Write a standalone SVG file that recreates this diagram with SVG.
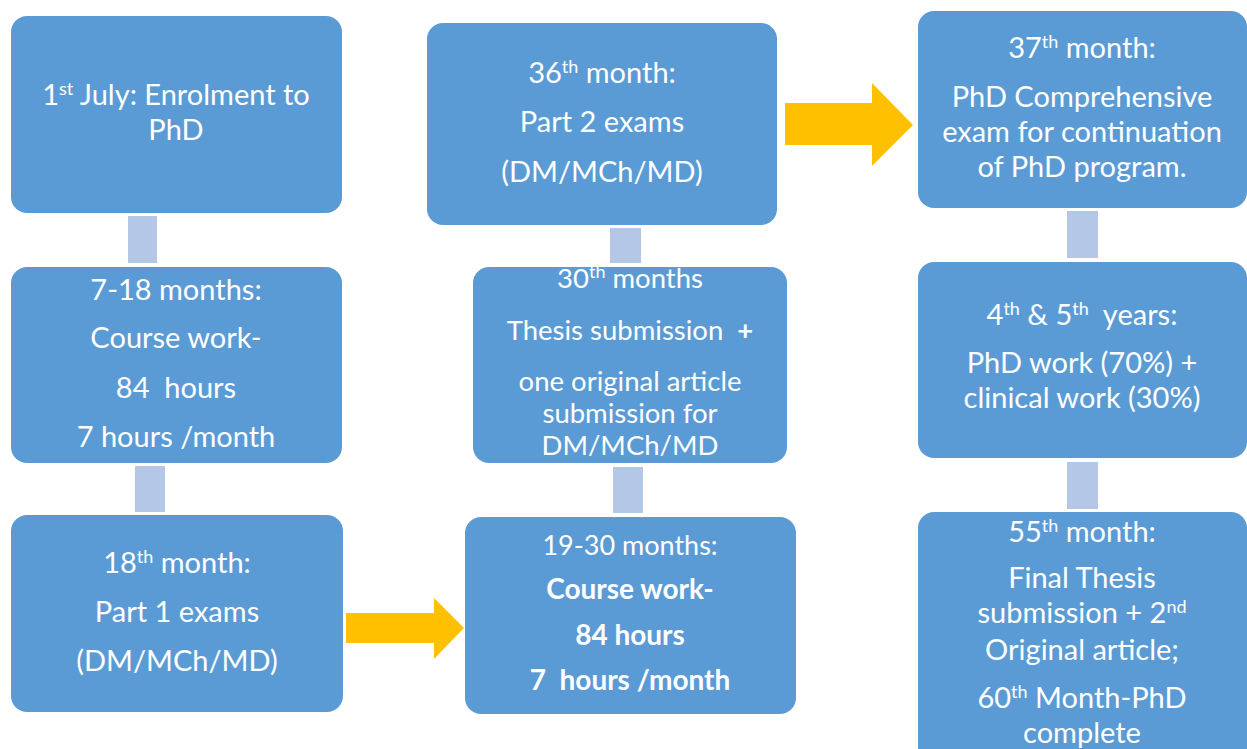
<svg xmlns="http://www.w3.org/2000/svg" width="1247" height="749" viewBox="0 0 1247 749">
<style>
.box{fill:#5B9BD5;}
.con{fill:#B4C7E7;}
.arr{fill:#FFC000;}
text{font-family:Lato,"Open Sans","Liberation Sans",sans-serif;font-size:29px;fill:#FFFFFF;text-anchor:middle;}
.s5{font-size:27.5px;}
.s6{font-size:27px;}
.b{font-weight:bold;font-size:28px;}
.sup{font-size:18px;}
</style>
<rect width="1247" height="749" fill="#FFFFFF"/>
<g id="connectors">
<rect class="con" x="128" y="216" width="29" height="47"/>
<rect class="con" x="135" y="466" width="30" height="46"/>
<rect class="con" x="610" y="228" width="31" height="35"/>
<rect class="con" x="613" y="467" width="30" height="46"/>
<rect class="con" x="1067" y="211" width="31" height="47"/>
<rect class="con" x="1067" y="462" width="31" height="47"/>
<polygon class="arr" points="346,613 434,613 434,598 464,628 434,659 434,643 346,643"/>
<polygon class="arr" points="785,103 872,103 872,83 913,125 872,166 872,145 785,145"/>
</g>
<g id="n1">
<rect class="box" x="11" y="16" width="331" height="197" rx="16"/>
<text x="176" y="105">1<tspan class="sup" dy="-10">st</tspan><tspan dy="10"> July: Enrolment to</tspan></text>
<text x="176" y="140">PhD</text>
</g>
<g id="n2">
<rect class="box" x="11" y="267" width="331" height="196" rx="16"/>
<text x="176" y="300">7-18 months:</text>
<text x="176" y="348">Course work-</text>
<text x="176" y="398" xml:space="preserve">84  hours</text>
<text x="176" y="447">7 hours /month</text>
</g>
<g id="n3">
<rect class="box" x="11" y="515" width="332" height="197" rx="16"/>
<text x="177" y="573">18<tspan class="sup" dy="-10">th</tspan><tspan dy="10"> month:</tspan></text>
<text x="177" y="622">Part 1 exams</text>
<text x="177" y="671">(DM/MCh/MD)</text>
</g>
<g id="n4">
<rect class="box" x="427" y="23" width="350" height="202" rx="16"/>
<text x="602" y="83">36<tspan class="sup" dy="-10">th</tspan><tspan dy="10"> month:</tspan></text>
<text x="602" y="132">Part 2 exams</text>
<text x="602" y="182">(DM/MCh/MD)</text>
</g>
<g id="n5">
<rect class="box" x="473" y="267" width="314" height="196" rx="16"/>
<text class="s5" x="630" y="288">30<tspan class="sup" dy="-10">th</tspan><tspan dy="10"> months</tspan></text>
<text class="s5" x="630" y="340" xml:space="preserve">Thesis submission  <tspan font-weight="bold">+</tspan></text>
<text class="s5" x="630" y="391">one original article</text>
<text class="s5" x="630" y="423">submission for</text>
<text class="s5" x="630" y="455">DM/MCh/MD</text>
</g>
<g id="n6">
<rect class="box" x="465" y="517" width="331" height="197" rx="16"/>
<text class="s6" x="630" y="555">19-30 months:</text>
<text class="b" x="630" y="599">Course work-</text>
<text class="b" x="630" y="645">84 hours</text>
<text class="b" x="630" y="690" xml:space="preserve">7  hours /month</text>
</g>
<g id="n7">
<rect class="box" x="918" y="11" width="329" height="197" rx="16"/>
<text x="1082" y="58">37<tspan class="sup" dy="-10">th</tspan><tspan dy="10"> month:</tspan></text>
<text x="1082" y="107">PhD Comprehensive</text>
<text x="1082" y="142">exam for continuation</text>
<text x="1082" y="177">of PhD program.</text>
</g>
<g id="n8">
<rect class="box" x="918" y="262" width="329" height="196" rx="16"/>
<text x="1082" y="325" xml:space="preserve">4<tspan class="sup" dy="-10">th</tspan><tspan dy="10"> &amp; 5</tspan><tspan class="sup" dy="-10">th</tspan><tspan dy="10">  years:</tspan></text>
<text x="1082" y="373">PhD work (70%) +</text>
<text x="1082" y="408">clinical work (30%)</text>
</g>
<g id="n9">
<rect class="box" x="918" y="512" width="329" height="260" rx="16"/>
<text x="1082" y="542">55<tspan class="sup" dy="-10">th</tspan><tspan dy="10"> month:</tspan></text>
<text x="1082" y="588">Final Thesis</text>
<text x="1082" y="623">submission + 2<tspan class="sup" dy="-10">nd</tspan></text>
<text x="1082" y="660">Original article;</text>
<text x="1082" y="708">60<tspan class="sup" dy="-10">th</tspan><tspan dy="10"> Month-PhD</tspan></text>
<text x="1082" y="743">complete</text>
</g>
</svg>
